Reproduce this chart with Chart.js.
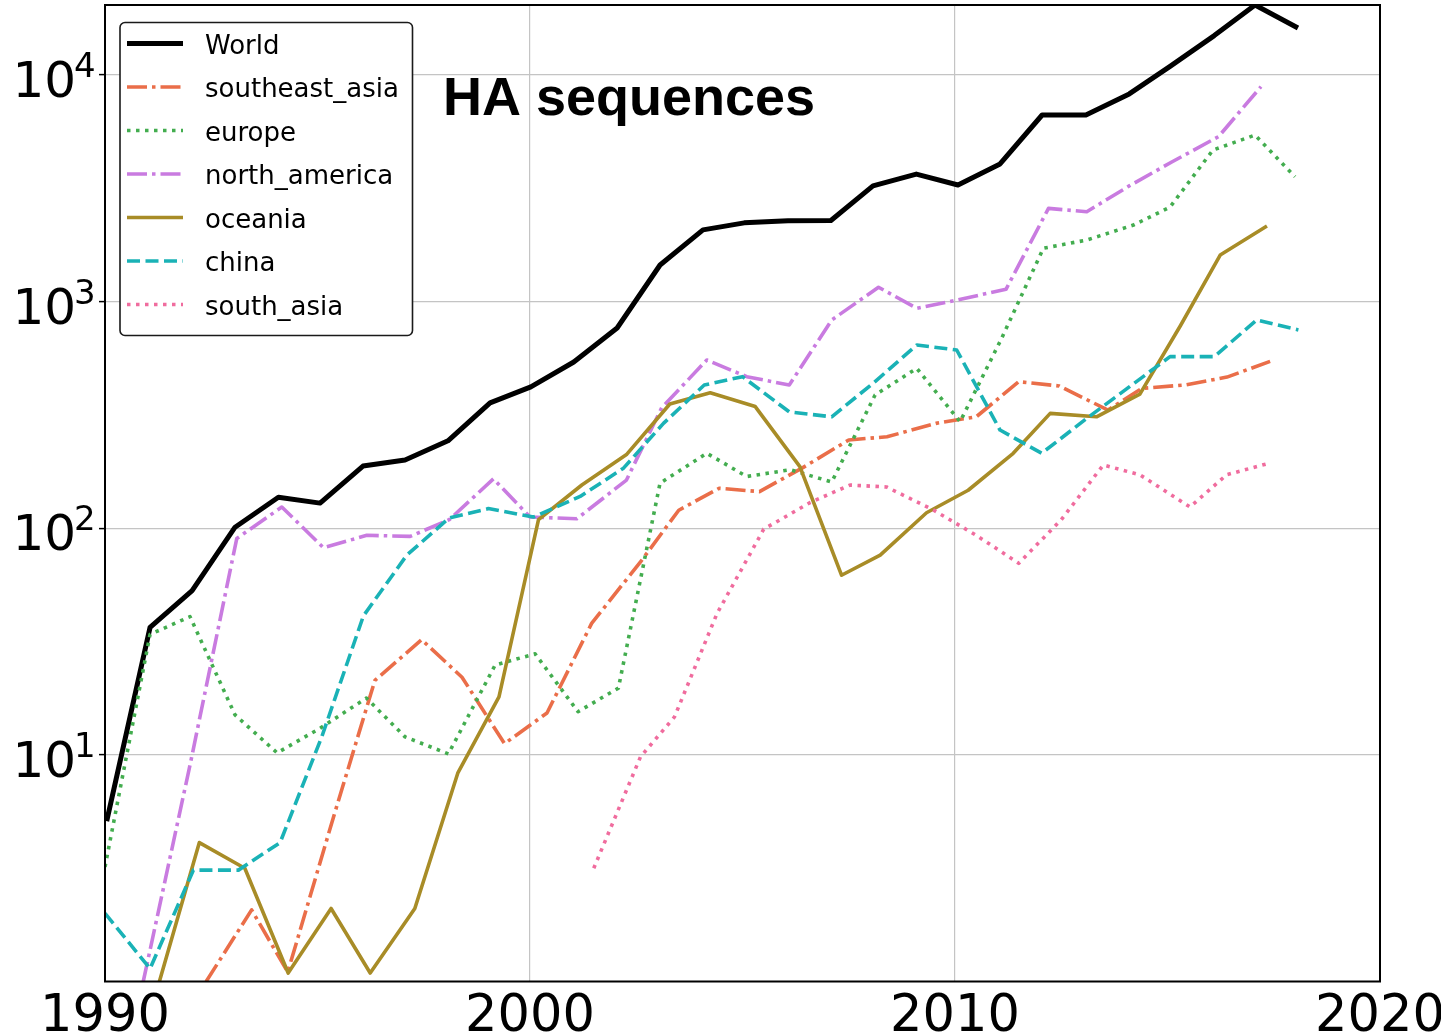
<!DOCTYPE html>
<html>
<head>
<meta charset="utf-8">
<script src="https://cdn.jsdelivr.net/npm/chart.js@4.4.0/dist/chart.umd.min.js"></script>
<style>
  html, body { margin: 0; padding: 0; background: #ffffff; }
  #wrap { width: 1441px; height: 1036px; }
</style>
</head>
<body>
<div id="wrap"><canvas id="chart" width="1441" height="1036"></canvas></div>
<script>
// ---- Data: sequences per year; x is the mean sampling date within each year ----
const chartTitle = 'HA sequences';

const worldYears  = [1990.04, 1991.06, 1992.05, 1993.06, 1994.08, 1995.06, 1996.07, 1997.06, 1998.07, 1999.06,
                     2000.02, 2001.03, 2002.05, 2003.06, 2004.07, 2005.04, 2006.07, 2007.08, 2008.07, 2009.09,
                     2010.07, 2011.06, 2012.05, 2013.08, 2014.1, 2015.06, 2016.1, 2017.06, 2018.07];
const worldCounts = [5.1, 36.5, 53, 101, 137, 129, 188, 200, 243, 357,
                     420, 541, 764, 1449, 2070, 2223, 2270, 2277, 3235, 3650,
                     3266, 4045, 6650, 6650, 8240, 10900, 14900, 20330, 16100];

const seAsiaYears  = [1992.38, 1993.45, 1994.3, 1995.4, 1996.35, 1997.45, 1998.4, 1999.4, 2000.4, 2001.45,
                      2002.6, 2003.5, 2004.45, 2005.4, 2006.4, 2007.5, 2008.4, 2009.55, 2010.5, 2011.5,
                      2012.45, 2013.6, 2014.4, 2015.4, 2016.4, 2017.5];
const seAsiaCounts = [1.0, 2.07, 1.1, 5.5, 21.3, 32.2, 22, 11.2, 15.3, 38,
                      71, 120, 150, 145, 184, 245, 253, 290, 310, 443,
                      424, 332, 414, 428, 464, 552];

const europeYears  = [1990.0, 1991.06, 1992.0, 1993.06, 1994.05, 1995.06, 1996.15, 1997.06, 1998.08, 1999.18,
                      2000.12, 2001.13, 2002.08, 2003.06, 2004.16, 2005.1, 2006.12, 2007.1, 2008.12, 2009.1,
                      2010.12, 2011.1, 2012.08, 2013.1, 2014.2, 2015.06, 2016.07, 2017.06, 2018.0];
const europeCounts = [3.2, 34, 40.7, 15, 10.2, 13.1, 17.8, 12, 10.1, 24.9,
                      27.9, 15.5, 19.7, 158, 214, 169, 181, 160, 387, 507,
                      295, 690, 1718, 1867, 2175, 2610, 4660, 5424, 3553];

const nAmericaYears  = [1990.9, 1992.0, 1993.1, 1994.16, 1995.14, 1996.16, 1997.18, 1998.1, 1999.14, 2000.0,
                        2001.1, 2002.27, 2003.1, 2004.16, 2005.1, 2006.1, 2007.1, 2008.2, 2009.1, 2010.04,
                        2011.2, 2012.2, 2013.1, 2014.1, 2015.1, 2016.2, 2017.2];
const nAmericaCounts = [1.0, 9.0, 90, 124, 82, 93, 92, 109, 165, 112,
                        110, 163, 340, 552, 466, 428, 829, 1156, 933, 1015,
                        1132, 2576, 2489, 3236, 4125, 5337, 8870];

const oceaniaYears  = [1991.28, 1992.22, 1993.29, 1994.31, 1995.32, 1996.24, 1997.29, 1998.3, 1999.27, 2000.2,
                       2001.22, 2002.28, 2003.29, 2004.24, 2005.3, 2006.35, 2007.33, 2008.24, 2009.33, 2010.31,
                       2011.37, 2012.24, 2013.33, 2014.35, 2015.3, 2016.24, 2017.34];
const oceaniaCounts = [1.0, 4.1, 3.16, 1.09, 2.1, 1.09, 2.1, 8.3, 18, 109,
                       155, 212, 353, 396, 344, 187, 62, 76, 117, 147,
                       214, 321, 310, 390, 780, 1603, 2153];

const chinaYears  = [1990.0, 1991.06, 1992.08, 1993.14, 1994.12, 1995.1, 1996.08, 1997.1, 1998.1, 1999.02,
                     2000.08, 2001.18, 2002.2, 2003.14, 2004.1, 2005.0, 2006.1, 2007.1, 2008.1, 2009.1,
                     2010.04, 2011.06, 2012.04, 2013.1, 2014.1, 2015.06, 2016.1, 2017.1, 2018.08];
const chinaCounts = [2.0, 1.14, 3.1, 3.1, 4.1, 12, 41, 76, 111, 122,
                     112, 138, 184, 290, 428, 466, 326, 310, 440, 643,
                     611, 271, 214, 305, 420, 571, 571, 829, 749];

const sAsiaYears  = [2001.5, 2002.6, 2003.4, 2004.4, 2005.5, 2006.6, 2007.53, 2008.39, 2009.5, 2010.5,
                     2011.5, 2012.5, 2013.49, 2014.35, 2015.53, 2016.39, 2017.37];
const sAsiaCounts = [3.16, 9.8, 14.7, 42, 99, 130, 155, 152, 120, 93,
                     70, 109, 190, 172, 124, 172, 193];

const xTickValues = [1990, 2000, 2010, 2020];
const xTickLabels = ['1990', '2000', '2010', '2020'];
const yTickValues = [10, 100, 1000, 10000];
const yTickBase = '10';
const yTickExponents = ['1', '2', '3', '4'];

// ---- Helpers ----
const toPoints = (xs, ys) => xs.map((x, i) => ({ x: x, y: ys[i] }));

const series = [
  { label: 'World',          xs: worldYears,    ys: worldCounts,    color: '#000000', width: 5,   dash: [] },
  { label: 'southeast_asia', xs: seAsiaYears,   ys: seAsiaCounts,   color: '#ea6e49', width: 3.6, dash: [20, 5, 3.5, 5] },
  { label: 'europe',         xs: europeYears,   ys: europeCounts,   color: '#43ad4f', width: 3.6, dash: [3.5, 5.5] },
  { label: 'north_america',  xs: nAmericaYears, ys: nAmericaCounts, color: '#c97be0', width: 3.6, dash: [20, 5, 3.5, 5] },
  { label: 'oceania',        xs: oceaniaYears,  ys: oceaniaCounts,  color: '#a88c27', width: 3.6, dash: [] },
  { label: 'china',          xs: chinaYears,    ys: chinaCounts,    color: '#1ab2b6', width: 3.6, dash: [13, 5.5] },
  { label: 'south_asia',     xs: sAsiaYears,    ys: sAsiaCounts,    color: '#f06c9e', width: 3.6, dash: [3.5, 5.5] }
];

const datasets = series.map((s, i) => ({
  label: s.label,
  data: toPoints(s.xs, s.ys),
  borderColor: s.color,
  backgroundColor: s.color,
  borderWidth: s.width,
  borderDash: s.dash,
  borderCapStyle: 'butt',
  borderJoinStyle: 'round',
  pointRadius: 0,
  pointHoverRadius: 0,
  tension: 0,
  fill: false,
  order: series.length - i   // later series are painted on top
}));

const tickFont = { family: '"DejaVu Sans", sans-serif', size: 51 };
const gridColor = '#c4c4c4';

// Black frame round the plotting area
const framePlugin = {
  id: 'axesFrame',
  afterDatasetsDraw(chart) {
    const { ctx, chartArea: a } = chart;
    ctx.save();
    ctx.strokeStyle = '#000000';
    ctx.lineWidth = 2;
    ctx.setLineDash([]);
    ctx.strokeRect(a.left, a.top, a.right - a.left, a.bottom - a.top);
    ctx.restore();
  }
};

// Power-of-ten labels for the log axis: base digits plus a raised exponent
const logLabelPlugin = {
  id: 'logLabels',
  afterDraw(chart) {
    const ctx = chart.ctx;
    const yScale = chart.scales.y;
    ctx.save();
    ctx.fillStyle = '#000000';
    ctx.textBaseline = 'alphabetic';
    ctx.textAlign = 'left';
    yTickValues.forEach((v, i) => {
      const py = yScale.getPixelForValue(v);
      ctx.font = '50px "DejaVu Sans", sans-serif';
      ctx.fillText(yTickBase, 12.5, py + 22);
      ctx.font = '34px "DejaVu Sans", sans-serif';
      ctx.fillText(yTickExponents[i], 74, py + 2);
    });
    ctx.restore();
  }
};

// Boxed legend in the upper-left corner plus the in-plot title
const legendPlugin = {
  id: 'boxLegend',
  afterDraw(chart) {
    const ctx = chart.ctx;
    const a = chart.chartArea;
    const bx = a.left + 15, by = a.top + 17.5, bw = 292.5, bh = 313, r = 5;
    ctx.save();
    ctx.beginPath();
    ctx.moveTo(bx + r, by);
    ctx.lineTo(bx + bw - r, by);
    ctx.arcTo(bx + bw, by, bx + bw, by + r, r);
    ctx.lineTo(bx + bw, by + bh - r);
    ctx.arcTo(bx + bw, by + bh, bx + bw - r, by + bh, r);
    ctx.lineTo(bx + r, by + bh);
    ctx.arcTo(bx, by + bh, bx, by + bh - r, r);
    ctx.lineTo(bx, by + r);
    ctx.arcTo(bx, by, bx + r, by, r);
    ctx.closePath();
    ctx.fillStyle = '#ffffff';
    ctx.fill();
    ctx.strokeStyle = '#1a1a1a';
    ctx.lineWidth = 1.6;
    ctx.stroke();

    chart.data.datasets.forEach((ds, i) => {
      const y = by + 21 + i * 43.5;
      ctx.beginPath();
      ctx.strokeStyle = ds.borderColor;
      ctx.lineWidth = ds.borderWidth;
      ctx.lineCap = 'butt';
      ctx.setLineDash(ds.borderDash || []);
      ctx.moveTo(bx + 7, y);
      ctx.lineTo(bx + 63, y);
      ctx.stroke();
      ctx.setLineDash([]);
      ctx.fillStyle = '#000000';
      ctx.font = '26px "DejaVu Sans", sans-serif';
      ctx.textBaseline = 'alphabetic';
      ctx.textAlign = 'left';
      ctx.fillText(ds.label, bx + 85, y + 10);
    });

    ctx.fillStyle = '#000000';
    ctx.font = 'bold 54px "Liberation Sans", Arial, sans-serif';
    ctx.textBaseline = 'alphabetic';
    ctx.textAlign = 'left';
    ctx.fillText(chartTitle, 443, 115);
    ctx.restore();
  }
};

new Chart(document.getElementById('chart'), {
  type: 'line',
  data: { datasets: datasets },
  plugins: [framePlugin, logLabelPlugin, legendPlugin],
  options: {
    responsive: false,
    maintainAspectRatio: false,
    devicePixelRatio: 1,
    animation: false,
    layout: { padding: { top: 5, right: 61, left: 0, bottom: 0 } },
    plugins: {
      legend: { display: false },
      title: { display: false },
      tooltip: { enabled: false }
    },
    scales: {
      x: {
        type: 'linear',
        min: 1990,
        max: 2020,
        afterBuildTicks: (s) => { s.ticks = xTickValues.map(v => ({ value: v })); },
        afterFit: (s) => { s.height = 54.5; s.paddingLeft = 0; s.paddingRight = 0; },
        border: { display: false },
        grid: { color: gridColor, lineWidth: 1.2, drawTicks: false },
        ticks: {
          font: tickFont,
          color: '#000000',
          padding: 6,
          maxRotation: 0,
          autoSkip: false,
          callback: (v, i) => xTickLabels[i]
        }
      },
      y: {
        type: 'logarithmic',
        min: 1,
        max: Math.max(...worldCounts),
        afterBuildTicks: (s) => { s.ticks = yTickValues.map(v => ({ value: v })); },
        afterFit: (s) => { s.width = 105; s.paddingTop = 0; s.paddingBottom = 0; },
        border: { display: false },
        grid: { color: gridColor, lineWidth: 1.2, drawTicks: true, tickLength: 6, tickColor: '#000000', tickWidth: 1.5 },
        ticks: { display: false }
      }
    }
  }
});
</script>
</body>
</html>
